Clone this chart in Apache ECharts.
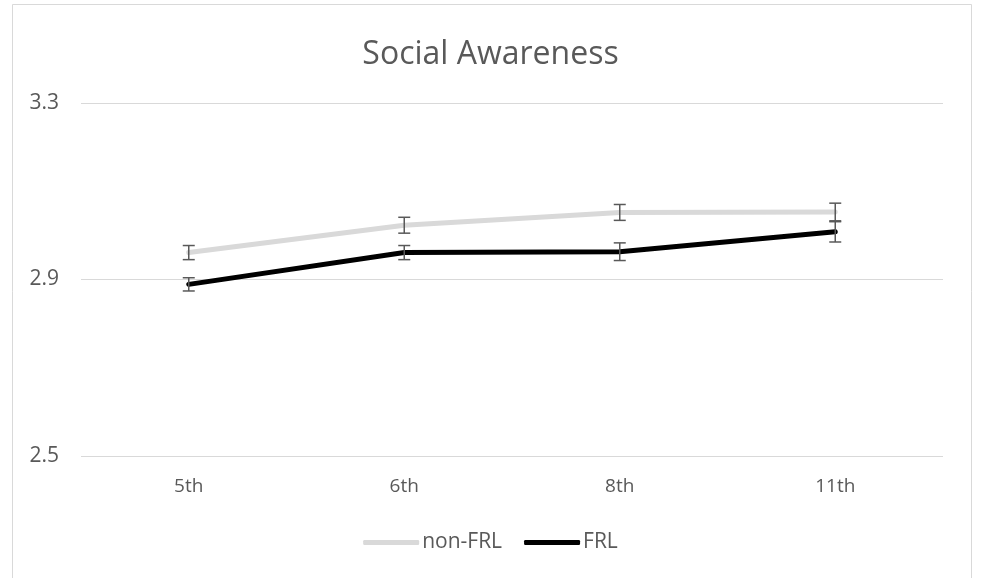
<!DOCTYPE html>
<html><head><meta charset="utf-8">
<script src="https://cdn.jsdelivr.net/npm/echarts@6/dist/echarts.min.js"></script>
<style>html,body{margin:0;padding:0;background:#fff}#c{width:981px;height:578px}</style>
</head><body><div id="c"></div>
<script>
const categories = ['5th', '6th', '8th', '11th'];
const nonFRL = [2.961, 3.023, 3.052, 3.053];
const FRL = [2.889, 2.961, 2.963, 3.008];
const nonFRLErr = [0.016, 0.018, 0.018, 0.020];
const FRLErr = [0.015, 0.016, 0.020, 0.023];
const yTicks = [2.5, 2.9, 3.3];

const chart = echarts.init(document.getElementById('c'));
const font = '"Open Sans", "Liberation Sans", sans-serif';
function errSeries(name, vals, errs) {
  return {
    name: name + ' err', type: 'custom', z: 5, silent: true,
    data: vals.map((v, i) => [i, v - errs[i], v + errs[i]]),
    renderItem: function (params, api) {
      const lo = api.coord([api.value(0), api.value(1)]);
      const hi = api.coord([api.value(0), api.value(2)]);
      const w = 6;
      const st = { stroke: '#595959', lineWidth: 1.5 };
      return { type: 'group', children: [
        { type: 'line', shape: { x1: hi[0], y1: hi[1], x2: lo[0], y2: lo[1] }, style: st },
        { type: 'line', shape: { x1: hi[0] - w, y1: hi[1], x2: hi[0] + w, y2: hi[1] }, style: st },
        { type: 'line', shape: { x1: lo[0] - w, y1: lo[1], x2: lo[0] + w, y2: lo[1] }, style: st }
      ]};
    }
  };
}
chart.setOption({
  animation: false,
  backgroundColor: '#fff',
  title: { text: 'Social Awareness', left: 'center', top: 34,
    textStyle: { fontFamily: font, fontSize: 32, fontWeight: 'normal', color: '#595959' } },
  graphic: [{ type: 'rect', shape: { x: 12.5, y: 4.5, width: 959, height: 600 },
    style: { fill: 'none', stroke: '#d9d9d9', lineWidth: 1 }, silent: true }],
  legend: { bottom: 20, left: 'center', itemWidth: 56, itemHeight: 5, itemGap: 22,
    icon: 'roundRect',
    data: [{ name: 'non-FRL' }, { name: 'FRL' }],
    textStyle: { fontFamily: font, fontSize: 21, color: '#595959', padding: [0, 0, 0, -2] } },
  grid: { left: 81, right: 38, top: 103, bottom: 122 },
  xAxis: { type: 'category', data: categories, boundaryGap: true,
    axisLine: { show: false }, axisTick: { show: false },
    axisLabel: { fontFamily: font, fontSize: 19, color: '#595959', margin: 21 } },
  yAxis: { type: 'value', min: yTicks[0], max: yTicks[yTicks.length - 1], interval: 0.4,
    axisLine: { show: false }, axisTick: { show: false },
    splitLine: { lineStyle: { color: '#d9d9d9', width: 1 } },
    axisLabel: { fontFamily: font, fontSize: 21, color: '#595959', margin: 22,
      formatter: v => v.toFixed(1) } },
  series: [
    { name: 'non-FRL', type: 'line', data: nonFRL, symbol: 'none', z: 3,
      lineStyle: { color: '#d9d9d9', width: 5, cap: 'round' }, itemStyle: { color: '#d9d9d9' } },
    { name: 'FRL', type: 'line', data: FRL, symbol: 'none', z: 4,
      lineStyle: { color: '#000', width: 5, cap: 'round' }, itemStyle: { color: '#000' } },
    errSeries('non-FRL', nonFRL, nonFRLErr),
    errSeries('FRL', FRL, FRLErr)
  ]
});
</script></body></html>
